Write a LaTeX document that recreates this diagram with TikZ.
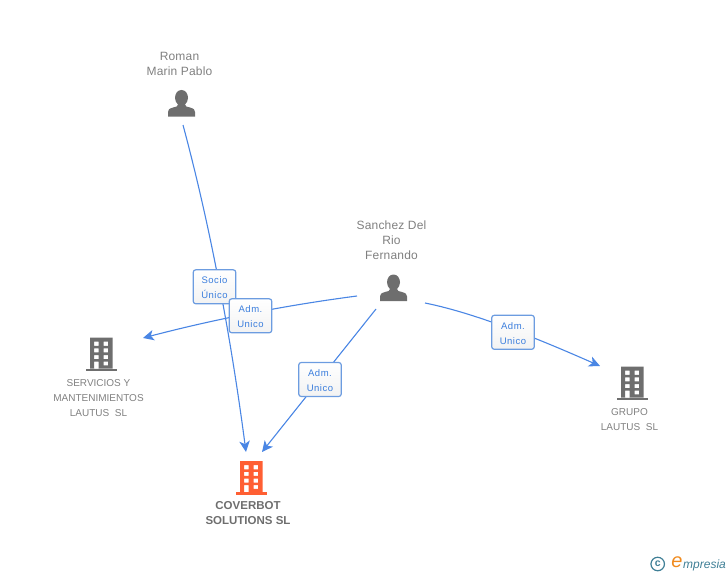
\documentclass[tikz,border=0pt]{standalone}
\usepackage{fontspec}
\setmainfont{Liberation Sans}
\newfontfamily\spacedfont[LetterSpace=1.5]{Liberation Sans}
\newfontfamily\boxfont[LetterSpace=5.5]{Liberation Sans}
\usetikzlibrary{arrows.meta,shadings}
\definecolor{linkblue}{HTML}{4A86E4}
\definecolor{boxblue}{HTML}{6C9CE0}
\definecolor{labelblue}{HTML}{3B7EDD}
\definecolor{greytext}{HTML}{808080}
\definecolor{icongrey}{HTML}{6E6E6E}
\definecolor{mainorange}{HTML}{FF5F33}
\definecolor{logoteal}{HTML}{3F7F96}
\definecolor{logoorange}{HTML}{F08A1D}
\newcommand{\boxlines}[2]{\rule{0pt}{9pt}#1\\#2}
\tikzset{
  link/.style={draw=linkblue,line width=1.1pt},
  linkarrow/.style={link,-{Stealth[length=11pt,width=10.5pt,inset=3pt]}},
  rolebox/.style={draw=boxblue,line width=1.2pt,rounded corners=2.5pt,top color=white,bottom color=white!95!black,
    minimum width=42.5pt,minimum height=34pt,inner sep=0pt,align=center,text=labelblue,
    font=\boxfont\fontsize{9.5}{15}\selectfont},
  personname/.style={align=center,text=greytext,inner sep=0pt,font=\spacedfont\fontsize{12}{15}\selectfont},
  companyname/.style={align=center,text=greytext,inner sep=0pt,font=\fontsize{10}{15}\selectfont},
  mainname/.style={align=center,text=icongrey,inner sep=0pt,font=\bfseries\fontsize{11.5}{15}\selectfont},
  pics/person/.style={code={
    \fill[icongrey] (13.5,0) .. controls (9.5,0) and (7,3.5) .. (7,8) .. controls (7,11) and (8.5,13) .. (10,14.5)
      .. controls (10,16.5) and (8,17) .. (5,17.5) .. controls (1,18.5) and (0,20) .. (0,22) -- (0,26.7) -- (27,26.7) -- (27,22)
      .. controls (27,20) and (26,18.5) .. (22,17.5) .. controls (19,17) and (17,16.5) .. (17,14.5)
      .. controls (18.5,13) and (20,11) .. (20,8) .. controls (20,3.5) and (17.5,0) .. (13.5,0) -- cycle;
  }},
  pics/building/.style={code={
    \fill[#1,even odd rule] (0,0) rectangle (22.5,31)
      (4.2,4.2) rectangle (8.5,8.3) (13.5,4.2) rectangle (18.1,8.3)
      (4.2,10.9) rectangle (8.5,14.8) (13.5,10.9) rectangle (18.1,14.8)
      (4.2,17.5) rectangle (8.5,21.5) (13.5,17.5) rectangle (18.1,21.5)
      (4.2,24.2) rectangle (8.5,31) (13.5,24.2) rectangle (18.1,27.8);
    \fill[#1] (-4.5,31) rectangle (27,33.5);
  }},
}
\begin{document}
\begin{tikzpicture}[x=1pt,y=-1pt]
\useasboundingbox (0,0) rectangle (728,575);
% end points of the connectors
\coordinate (romanout) at (183,125);
\coordinate (sanchezwest) at (357,296);
\coordinate (sanchezsouth) at (376,309);
\coordinate (sancheweast) at (425,303);
\coordinate (serviciosin) at (143,338);
\coordinate (grupoin) at (600,366);
\coordinate (coverbotinA) at (246,452);
\coordinate (coverbotinB) at (262,452);
% connectors
\path[linkarrow] (romanout) .. controls (209,221.7) and (230,330.7) .. (coverbotinA);
\path[linkarrow] (sanchezwest) .. controls (285.7,305.3) and (214.3,319.3) .. (serviciosin);
\path[linkarrow] (sanchezsouth) -- (coverbotinB);
\path[linkarrow] (sancheweast) .. controls (480,314) and (550,344) .. (grupoin);
% icons
\pic at (168,90) {person};
\pic at (380,274.5) {person};
\pic at (90,337.5) {building=icongrey};
\pic at (621,366.5) {building=icongrey};
\pic at (240,461) {building=mainorange};
% names
\node[personname] (roman) at (179.5,63.5) {Roman\\Marin Pablo};
\node[personname] (sanchez) at (391.5,240) {Sanchez Del\\Rio\\Fernando};
\node[companyname] (servicios) at (98.5,398) {SERVICIOS Y\\MANTENIMIENTOS\\LAUTUS\ \ SL};
\node[companyname] (grupo) at (629.5,419.5) {GRUPO\\LAUTUS\ \ SL};
\node[mainname] (coverbot) at (248,513.5) {COVERBOT\\SOLUTIONS SL};
% role boxes
\node[rolebox] (socio) at (214.5,286.8) {\boxlines{Socio}{Único}};
\node[rolebox] (admA) at (250.5,315.8) {\boxlines{Adm.}{Unico}};
\node[rolebox] (admB) at (320,379.5) {\boxlines{Adm.}{Unico}};
\node[rolebox] (admC) at (513,332.3) {\boxlines{Adm.}{Unico}};
% logo
\node[circle,draw=logoteal,line width=1.2pt,minimum size=13.5pt,inner sep=0pt,text=logoteal,font=\bfseries\fontsize{10.5}{10.5}\selectfont] (copyr) at (657.7,564) {c};
\node[text=logoorange,inner sep=0pt,font=\itshape\fontsize{20}{20}\selectfont] (logoe) at (677,562) {e};
\node[anchor=west,text=logoteal,inner sep=0pt,font=\itshape\fontsize{12}{12}\selectfont] (logotext) at (683,565) {mpresia};
\end{tikzpicture}
\end{document}
